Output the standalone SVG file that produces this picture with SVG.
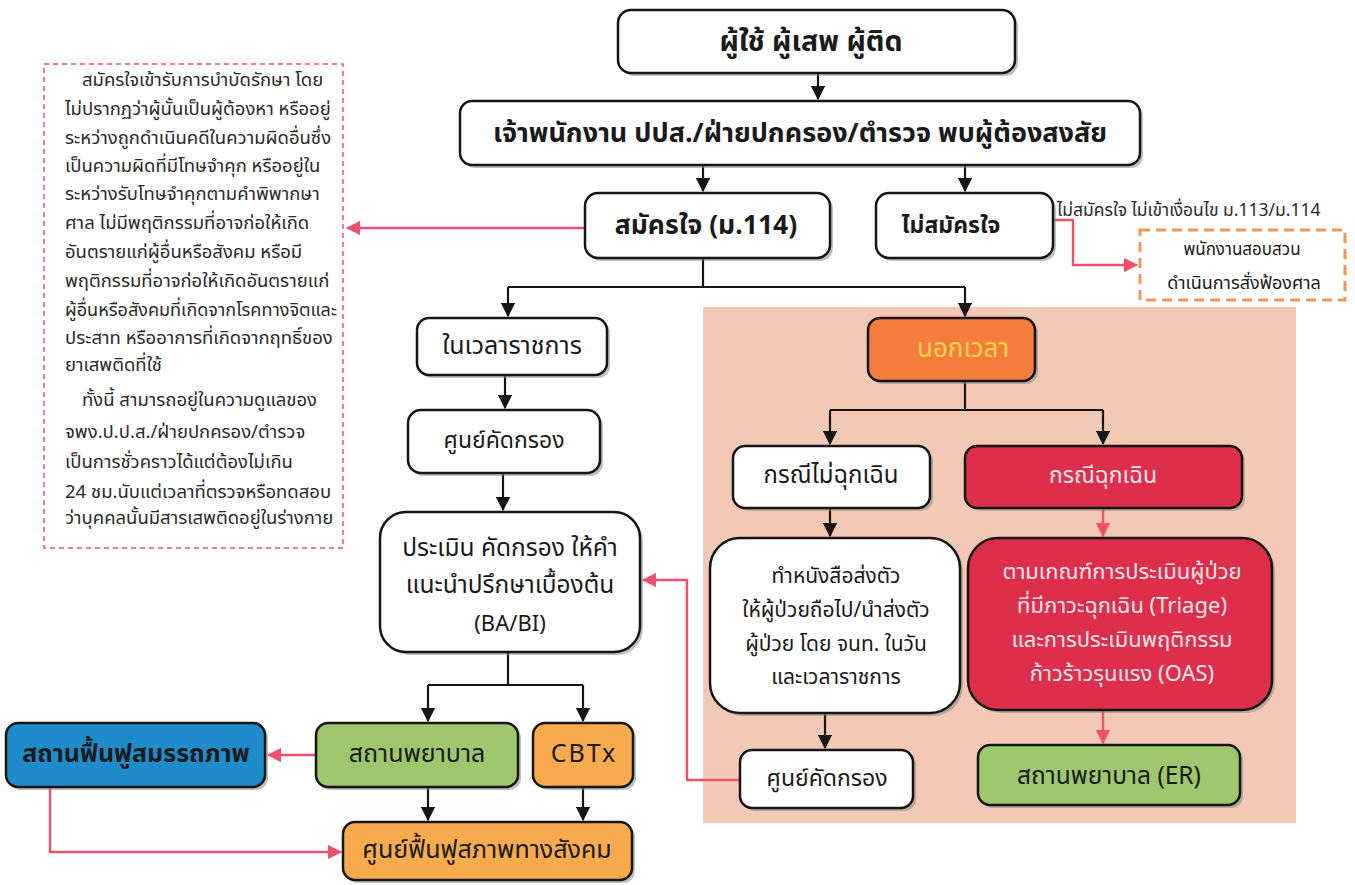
<svg xmlns="http://www.w3.org/2000/svg" width="1355" height="885" viewBox="0 0 1355 885">
<style>
.t{font-family:"Noto Sans Thai","Tahoma","Noto Sans","DejaVu Sans",sans-serif;text-anchor:middle;dominant-baseline:central;fill:#1a1a1a}
.b{font-weight:bold}
.bx{stroke:#151515;stroke-width:2.5}
.sh{fill:#8a8a8a;opacity:.55}
.k{stroke:#151515;stroke-width:2.2;fill:none}
.r{stroke:#f0506e;stroke-width:2.4;fill:none}
.p{font-family:"Noto Sans Thai","Tahoma","Noto Sans","DejaVu Sans",sans-serif;font-size:18.5px;fill:#2a2a2a;dominant-baseline:central}
.w{fill:#fde6ea}
</style>
<defs>
<marker id="ak" viewBox="0 0 12 12" refX="11" refY="6" markerWidth="6.5" markerHeight="6.5" orient="auto" markerUnits="strokeWidth"><path d="M0,0L12,6L0,12z" fill="#151515"/></marker>
<marker id="ar" viewBox="0 0 12 12" refX="11" refY="6" markerWidth="6" markerHeight="6" orient="auto" markerUnits="strokeWidth"><path d="M0,0L12,6L0,12z" fill="#f0506e"/></marker>
</defs>
<rect width="1355" height="885" fill="#ffffff"/>
<rect x="703" y="307" width="593" height="516" fill="#f3c8b4"/>

<g id="connectors">
<line class="k" x1="818" y1="73" x2="818" y2="99" marker-end="url(#ak)"/>
<line class="k" x1="703" y1="165" x2="703" y2="191" marker-end="url(#ak)"/>
<line class="k" x1="965" y1="165" x2="965" y2="191" marker-end="url(#ak)"/>
<line class="r" x1="585" y1="228" x2="347" y2="228" marker-end="url(#ar)"/>
<polyline class="r" points="1053,220 1073,220 1073,265 1137,265" marker-end="url(#ar)"/>
<polyline class="k" points="703,258 703,287"/>
<polyline class="k" points="508,287 965,287"/>
<line class="k" x1="508" y1="287" x2="508" y2="316" marker-end="url(#ak)"/>
<line class="k" x1="965" y1="287" x2="965" y2="316" marker-end="url(#ak)"/>
<line class="k" x1="505" y1="375" x2="505" y2="408" marker-end="url(#ak)"/>
<line class="k" x1="503" y1="473" x2="503" y2="510" marker-end="url(#ak)"/>
<polyline class="k" points="508,652 508,685"/>
<polyline class="k" points="428,685 583,685"/>
<line class="k" x1="428" y1="685" x2="428" y2="721" marker-end="url(#ak)"/>
<line class="k" x1="583" y1="685" x2="583" y2="721" marker-end="url(#ak)"/>
<line class="r" x1="316" y1="755" x2="268" y2="755" marker-end="url(#ar)"/>
<line class="k" x1="428" y1="787" x2="428" y2="820" marker-end="url(#ak)"/>
<line class="k" x1="583" y1="787" x2="583" y2="820" marker-end="url(#ak)"/>
<polyline class="r" points="50,787 50,852 341,852" marker-end="url(#ar)"/>
<polyline class="r" points="740,780 687,780 687,580 643,580" marker-end="url(#ar)"/>
<polyline class="k" points="965,381 965,410"/>
<polyline class="k" points="830,410 1103,410"/>
<line class="k" x1="830" y1="410" x2="830" y2="444" marker-end="url(#ak)"/>
<line class="k" x1="1103" y1="410" x2="1103" y2="444" marker-end="url(#ak)"/>
<line class="k" x1="830" y1="508" x2="830" y2="536" marker-end="url(#ak)"/>
<line class="r" x1="1103" y1="508" x2="1103" y2="536" marker-end="url(#ar)"/>
<line class="k" x1="825" y1="713" x2="825" y2="748" marker-end="url(#ak)"/>
<line class="r" x1="1103" y1="710" x2="1103" y2="743" marker-end="url(#ar)"/>
</g>

<g id="n-user">
<rect class="sh" x="621" y="13" width="397" height="63" rx="13"/>
<rect class="bx" x="618" y="10" width="397" height="63" rx="13" fill="#fff"/>
<text class="t b" x="811" y="42" font-size="28.5">ผู้ใช้ ผู้เสพ ผู้ติด</text>
</g>
<g id="n-officer">
<rect class="sh" x="463" y="104" width="680" height="64" rx="12"/>
<rect class="bx" x="460" y="101" width="680" height="64" rx="12" fill="#fff"/>
<text class="t b" x="800" y="133" font-size="27">เจ้าพนักงาน ปปส./ฝ่ายปกครอง/ตำรวจ พบผู้ต้องสงสัย</text>
</g>
<g id="n-voluntary">
<rect class="sh" x="588" y="196" width="245" height="65" rx="13"/>
<rect class="bx" x="585" y="193" width="245" height="65" rx="13" fill="#fff"/>
<text class="t b" x="706" y="226" font-size="26.5">สมัครใจ (ม.114)</text>
</g>
<g id="n-involuntary">
<rect class="sh" x="879" y="196" width="177" height="65" rx="13"/>
<rect class="bx" x="876" y="193" width="177" height="65" rx="13" fill="#fff"/>
<text class="t b" x="951" y="226" font-size="23">ไม่สมัครใจ</text>
</g>
<g id="l-involuntary">
<text class="p" x="1057" y="210" style="font-size:17.5px">ไม่สมัครใจ ไม่เข้าเงื่อนไข ม.113/ม.114</text>
</g>
<g id="n-prosecute">
<rect x="1140" y="230" width="205" height="70" fill="#fff" stroke="#f7945a" stroke-width="3" stroke-dasharray="10,6"/>
<text class="t" x="1242" y="250" font-size="17">พนักงานสอบสวน</text>
<text class="t" x="1244" y="283" font-size="18">ดำเนินการสั่งฟ้องศาล</text>
</g>
<g id="n-note">
<rect x="44" y="64" width="299" height="484" fill="#fff" stroke="#ef4f78" stroke-width="1.5" stroke-dasharray="5,4"/>
<text class="p" x="82" y="80">สมัครใจเข้ารับการบำบัดรักษา โดย</text>
<text class="p" x="65" y="109">ไม่ปรากฏว่าผู้นั้นเป็นผู้ต้องหา หรืออยู่</text>
<text class="p" x="65" y="138">ระหว่างถูกดำเนินคดีในความผิดอื่นซึ่ง</text>
<text class="p" x="65" y="166">เป็นความผิดที่มีโทษจำคุก หรืออยู่ใน</text>
<text class="p" x="65" y="194">ระหว่างรับโทษจำคุกตามคำพิพากษา</text>
<text class="p" x="65" y="223">ศาล ไม่มีพฤติกรรมที่อาจก่อให้เกิด</text>
<text class="p" x="65" y="252">อันตรายแก่ผู้อื่นหรือสังคม หรือมี</text>
<text class="p" x="65" y="281">พฤติกรรมที่อาจก่อให้เกิดอันตรายแก่</text>
<text class="p" x="65" y="310" textLength="272" lengthAdjust="spacingAndGlyphs">ผู้อื่นหรือสังคมที่เกิดจากโรคทางจิตและ</text>
<text class="p" x="65" y="338">ประสาท หรืออาการที่เกิดจากฤทธิ์ของ</text>
<text class="p" x="65" y="365">ยาเสพติดที่ใช้</text>
<text class="p" x="82" y="400">ทั้งนี้ สามารถอยู่ในความดูแลของ</text>
<text class="p" x="65" y="432">จพง.ป.ป.ส./ฝ่ายปกครอง/ตำรวจ</text>
<text class="p" x="65" y="462">เป็นการชั่วคราวได้แต่ต้องไม่เกิน</text>
<text class="p" x="65" y="492">24 ชม.นับแต่เวลาที่ตรวจหรือทดสอบ</text>
<text class="p" x="65" y="518">ว่าบุคคลนั้นมีสารเสพติดอยู่ในร่างกาย</text>
</g>
<g id="n-office-hours">
<rect class="sh" x="420" y="321" width="190" height="57" rx="12"/>
<rect class="bx" x="417" y="318" width="190" height="57" rx="12" fill="#fff"/>
<text class="t" x="512" y="346" font-size="25">ในเวลาราชการ</text>
</g>
<g id="n-screen1">
<rect class="sh" x="411" y="413" width="192" height="63" rx="13"/>
<rect class="bx" x="408" y="410" width="192" height="63" rx="13" fill="#fff"/>
<text class="t" x="504" y="441" font-size="23">ศูนย์คัดกรอง</text>
</g>
<g id="n-assess">
<rect class="sh" x="383" y="515" width="260" height="140" rx="26"/>
<rect class="bx" x="380" y="512" width="260" height="140" rx="26" fill="#fff"/>
<text class="t" x="510" y="548" font-size="24.5">ประเมิน คัดกรอง ให้คำ</text>
<text class="t" x="510" y="585" font-size="24.5">แนะนำปรึกษาเบื้องต้น</text>
<text class="t" x="510" y="624" font-size="22">(BA/BI)</text>
</g>
<g id="n-rehab">
<rect class="sh" x="9" y="726" width="259" height="64" rx="12"/>
<rect class="bx" x="6" y="723" width="259" height="64" rx="12" fill="#1e8ccb"/>
<text class="t b" x="136" y="754" font-size="25">สถานฟื้นฟูสมรรถภาพ</text>
</g>
<g id="n-hospital">
<rect class="sh" x="319" y="726" width="202" height="64" rx="12"/>
<rect class="bx" x="316" y="723" width="202" height="64" rx="12" fill="#9ec76d"/>
<text class="t" x="417" y="754" font-size="25">สถานพยาบาล</text>
</g>
<g id="n-cbtx">
<rect class="sh" x="536" y="726" width="100" height="64" rx="12"/>
<rect class="bx" x="533" y="723" width="100" height="64" rx="12" fill="#f7ab4d"/>
<text class="t" x="584" y="754" font-size="25" letter-spacing="2">CBTx</text>
</g>
<g id="n-social">
<rect class="sh" x="346" y="825" width="289" height="58" rx="12"/>
<rect class="bx" x="343" y="822" width="289" height="58" rx="12" fill="#f7ab4d"/>
<text class="t" x="487" y="850" font-size="25">ศูนย์ฟื้นฟูสภาพทางสังคม</text>
</g>
<g id="n-after-hours">
<rect class="sh" x="871" y="321" width="167" height="63" rx="12"/>
<rect class="bx" x="868" y="318" width="167" height="63" rx="12" fill="#f47c3d"/>
<text class="t" x="963" y="349" font-size="26" style="fill:#ffd34e">นอกเวลา</text>
</g>
<g id="n-non-emergency">
<rect class="sh" x="736" y="449" width="197" height="62" rx="12"/>
<rect class="bx" x="733" y="446" width="197" height="62" rx="12" fill="#fff"/>
<text class="t" x="831" y="476" font-size="24">กรณีไม่ฉุกเฉิน</text>
</g>
<g id="n-emergency">
<rect class="sh" x="968" y="449" width="277" height="62" rx="12"/>
<rect class="bx" x="965" y="446" width="277" height="62" rx="12" fill="#dd2f4c"/>
<text class="t w" x="1103" y="476" font-size="23">กรณีฉุกเฉิน</text>
</g>
<g id="n-referral">
<rect class="sh" x="713" y="541" width="250" height="175" rx="30"/>
<rect class="bx" x="710" y="538" width="250" height="175" rx="30" fill="#fff"/>
<text class="t" x="836" y="576" font-size="21">ทำหนังสือส่งตัว</text>
<text class="t" x="836" y="610" font-size="21">ให้ผู้ป่วยถือไป/นำส่งตัว</text>
<text class="t" x="836" y="644" font-size="21">ผู้ป่วย โดย จนท. ในวัน</text>
<text class="t" x="836" y="677" font-size="21">และเวลาราชการ</text>
</g>
<g id="n-triage">
<rect class="sh" x="971" y="541" width="304" height="172" rx="30"/>
<rect class="bx" x="968" y="538" width="304" height="172" rx="30" fill="#dd2f4c"/>
<text class="t w" x="1122" y="572" font-size="22">ตามเกณฑ์การประเมินผู้ป่วย</text>
<text class="t w" x="1122" y="606" font-size="22">ที่มีภาวะฉุกเฉิน (Triage)</text>
<text class="t w" x="1122" y="640" font-size="22">และการประเมินพฤติกรรม</text>
<text class="t w" x="1122" y="674" font-size="22">ก้าวร้าวรุนแรง (OAS)</text>
</g>
<g id="n-screen2">
<rect class="sh" x="743" y="753" width="173" height="58" rx="12"/>
<rect class="bx" x="740" y="750" width="173" height="58" rx="12" fill="#fff"/>
<text class="t" x="827" y="779" font-size="23">ศูนย์คัดกรอง</text>
</g>
<g id="n-er">
<rect class="sh" x="981" y="748" width="262" height="60" rx="12"/>
<rect class="bx" x="978" y="745" width="262" height="60" rx="12" fill="#9ec76d"/>
<text class="t" x="1109" y="776" font-size="24.5">สถานพยาบาล (ER)</text>
</g>
</svg>
